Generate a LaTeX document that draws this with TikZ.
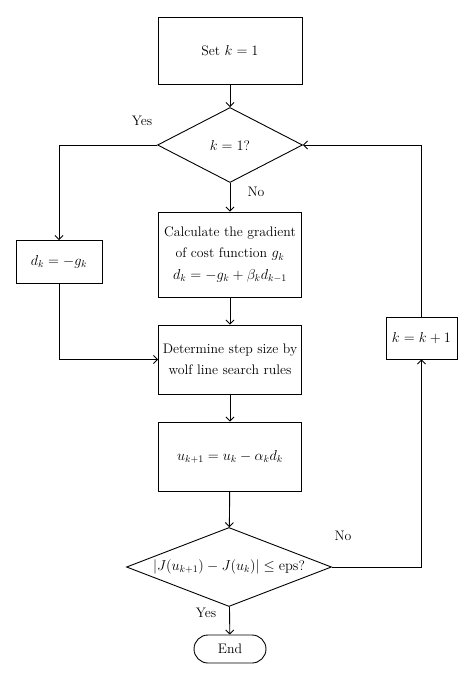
\documentclass[tikz,border=0pt]{standalone}
\usetikzlibrary{shapes.geometric,arrows.meta}
\begin{document}
\begin{tikzpicture}[x=1pt,y=-1pt, font=\fontsize{13.8}{21.5}\selectfont,
  box/.style={draw, line width=0.9pt, align=center, inner sep=2pt},
  dec/.style={draw, diamond, line width=0.9pt, inner sep=0pt},
  arr/.style={-{Straight Barb[length=4pt,width=8pt]}, line width=0.9pt},
  lbl/.style={inner sep=1pt}]
\useasboundingbox (0,0) rectangle (474,680);
\node[box, minimum width=144pt, minimum height=67pt] (set) at (230,50.5) {Set $k=1$};
\node[dec, minimum width=145pt, minimum height=75pt] (d1) at (230,145) {$k=1$?};
\node[box, minimum width=143pt, minimum height=85pt] (calc) at (230,254.5) {Calculate the gradient\\ of cost function $g_k$\\ $d_k=-g_k+\beta_k d_{k-1}$};
\node[box, minimum width=143pt, minimum height=69pt] (det) at (230,359.5) {Determine step size by\\ wolf line search rules};
\node[box, minimum width=143pt, minimum height=69pt] (u) at (230,456.5) {$u_{k+1}=u_k-\alpha_k d_k$};
\node[dec, minimum width=205pt, minimum height=79pt, aspect=2.6] (d2) at (229,567) {$\bigl|J(u_{k+1})-J(u_k)\bigr|\leq \mathrm{eps}$?};
\node[draw, line width=0.9pt, rounded corners=14pt, minimum width=72pt, minimum height=28pt] (end) at (230,649) {End};
\node[box, minimum width=86pt, minimum height=43pt] (dk) at (59,262) {$d_k=-g_k$};
\node[box, minimum width=71pt, minimum height=42pt] (kk) at (421.5,338) {$k=k+1$};
\node[lbl] (yes1) at (142,121) {Yes};
\node[lbl] (no1) at (256,192) {No};
\node[lbl] (no2) at (343,536) {No};
\node[lbl] (yes2) at (206,613) {Yes};
\draw[arr] (set) -- (d1);
\draw[arr] (d1) -- (calc);
\draw[arr] (d1.west) -| (dk.north);
\draw[arr] (calc) -- (det);
\draw[arr] (dk.south) |- (det.west);
\draw[arr] (det) -- (u);
\draw[arr] (u) -- (d2);
\draw[arr] (d2) -- (end);
\draw[arr] (d2.east) -| (kk.south);
\draw[arr] (kk.north) |- (d1.east);
\end{tikzpicture}
\end{document}
